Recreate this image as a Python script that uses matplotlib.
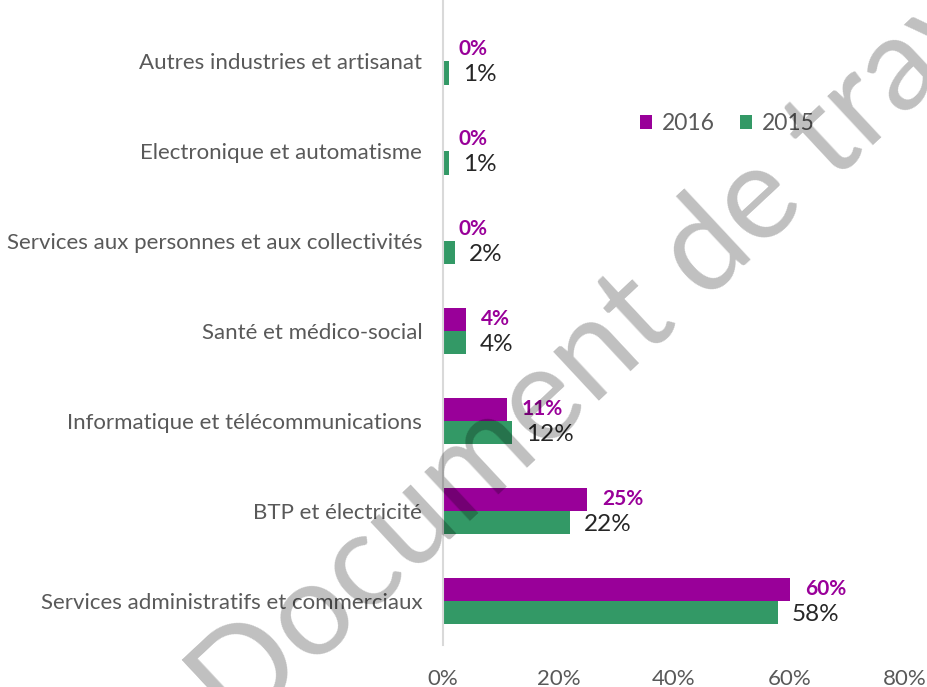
import matplotlib
matplotlib.use("Agg")
import matplotlib.pyplot as plt
import numpy as np

plt.rcParams['font.family'] = ['Lato', 'DejaVu Sans']

categories = [
    "Services administratifs et commerciaux",
    "BTP et électricité",
    "Informatique et télécommunications",
    "Santé et médico-social",
    "Services aux personnes et aux collectivités",
    "Electronique et automatisme",
    "Autres industries et artisanat",
]
vals_2016 = [0.60, 0.25, 0.11, 0.04, 0.00, 0.00, 0.00]
vals_2015 = [0.58, 0.22, 0.12, 0.04, 0.02, 0.01, 0.01]
xticks = [0.0, 0.2, 0.4, 0.6, 0.8]

purple = "#990099"
green = "#339966"
grey_txt = "#595959"

fig = plt.figure(figsize=(9.27, 6.87), dpi=100)
ax = fig.add_axes([443 / 927, 42 / 687, 462 / 927, 645 / 687])

y = np.arange(len(categories))
h = 0.26
b16 = ax.barh(y + h / 2, vals_2016, height=h, color=purple, label="2016")
b15 = ax.barh(y - h / 2, vals_2015, height=h, color=green, label="2015")

for yi, v in zip(y, vals_2016):
    ax.annotate(f"{v*100:.0f}%", (v, yi + h / 2), xytext=(11, 0), textcoords="offset points",
                va="center", ha="left", color=purple, fontsize=15, fontweight="bold")
for yi, v in zip(y, vals_2015):
    ax.annotate(f"{v*100:.0f}%", (v, yi - h / 2), xytext=(10, -1), textcoords="offset points",
                va="center", ha="left", color="#262626", fontsize=17.5)

ax.set_xlim(0, 0.8)
ax.set_ylim(-0.49, 6.68)
ax.set_xticks(xticks)
ax.set_xticklabels([f"{t*100:.0f}%" for t in xticks], color=grey_txt, fontsize=16)
ax.set_yticks(y)
ax.set_yticklabels(categories, color=grey_txt, fontsize=16)
ax.tick_params(axis="both", length=0)
ax.tick_params(axis="y", pad=15)
ax.tick_params(axis="x", pad=17)
for s in ["top", "right", "bottom"]:
    ax.spines[s].set_visible(False)
ax.spines["left"].set_color("#d9d9d9")
ax.spines["left"].set_linewidth(1.5)

leg = ax.legend(handles=[b16, b15], loc="center", bbox_to_anchor=(0.615, 0.808), ncol=2,
                frameon=False, fontsize=16.5, handlelength=0.55, handleheight=0.55,
                handletextpad=0.4, columnspacing=1.1, labelcolor=grey_txt)

# filigrane
fig.text(0.69, 0.545, "Document de travail", fontsize=94, color="black", alpha=0.25,
         rotation=43, ha="center", va="center", rotation_mode="anchor", zorder=10)

fig.savefig("out.png", dpi=100)
